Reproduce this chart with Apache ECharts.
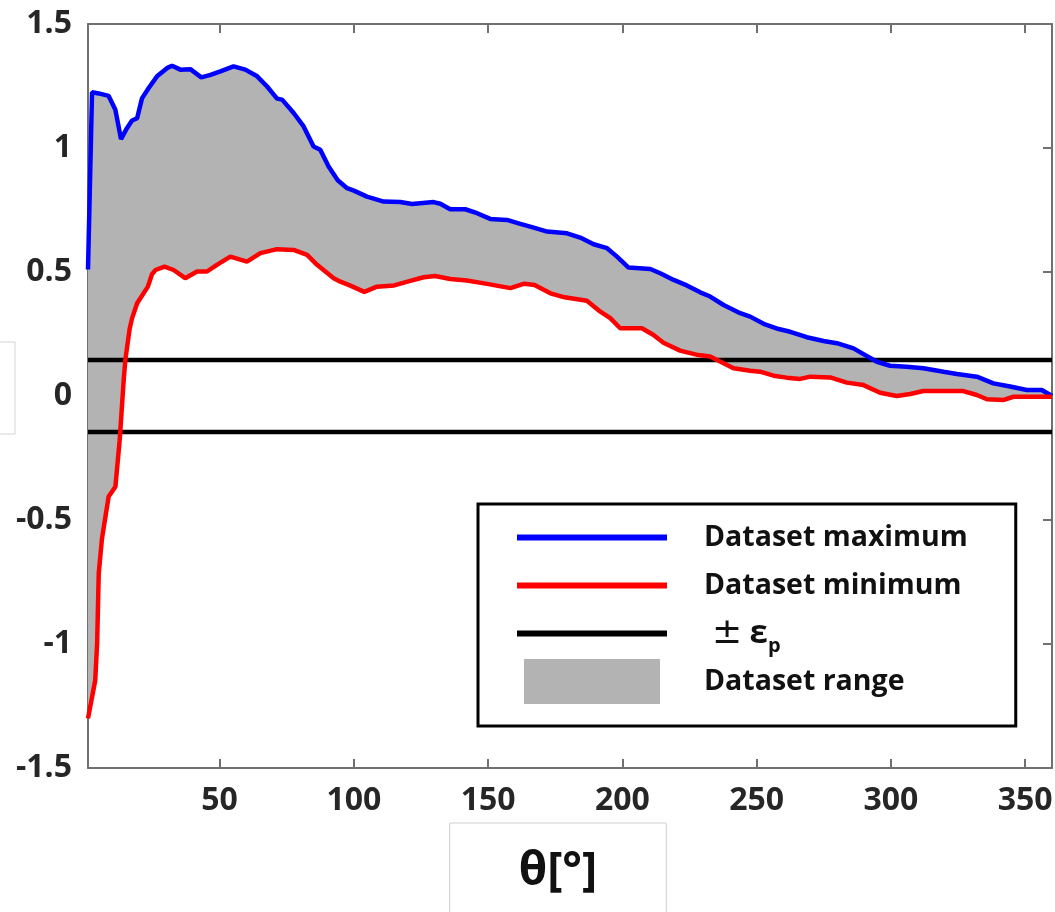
<!DOCTYPE html>
<html><head><meta charset="utf-8">
<script src="https://cdn.jsdelivr.net/npm/echarts@6/dist/echarts.min.js"></script>
<style>html,body{margin:0;padding:0;background:#fff}#c{width:1055px;height:912px}</style>
</head><body><div id="c"></div>
<script>
// ---- data ----
const maxX = [1, 2.5, 5, 8.7, 11.2, 13.3, 15.5, 17.4, 19.3, 21.1, 23.6, 26.7, 30.4, 32.3, 35.4, 39.1, 43.2, 46.6, 50.3, 55.2, 59.6, 64, 67.7, 71.4, 73.3, 77.6, 81.3, 85, 87.5, 90.6, 94, 97.5, 100, 104.9, 111.1, 117.3, 121.7, 129.7, 132.2, 135.9, 141.5, 145.9, 150.8, 157, 162, 167, 172, 179.4, 184.3, 189.3, 194.3, 198, 202.3, 210.4, 214.1, 219.1, 224, 229, 232.7, 237.7, 243.9, 247.6, 252.6, 258.2, 262.5, 268.7, 274.9, 279.9, 286.1, 289.8, 294.8, 299.7, 305.9, 312.1, 319.6, 324.6, 332, 338.2, 344.4, 350.6, 356.2, 360];
const maxY = [0.51, 1.225, 1.22, 1.21, 1.154, 1.036, 1.08, 1.111, 1.12, 1.2, 1.242, 1.289, 1.322, 1.332, 1.316, 1.318, 1.285, 1.295, 1.309, 1.329, 1.316, 1.289, 1.248, 1.199, 1.195, 1.141, 1.087, 1.006, 0.993, 0.925, 0.87, 0.838, 0.828, 0.804, 0.784, 0.782, 0.774, 0.782, 0.775, 0.753, 0.753, 0.737, 0.714, 0.71, 0.694, 0.679, 0.663, 0.656, 0.639, 0.612, 0.596, 0.562, 0.518, 0.512, 0.495, 0.468, 0.446, 0.418, 0.401, 0.367, 0.334, 0.32, 0.291, 0.27, 0.259, 0.237, 0.222, 0.213, 0.192, 0.169, 0.138, 0.122, 0.118, 0.112, 0.098, 0.089, 0.078, 0.051, 0.038, 0.024, 0.024, 0.0];
const minX = [1, 3.7, 4.4, 5, 6.2, 8.7, 11.2, 12.8, 14.3, 14.9, 16.5, 17.4, 19.3, 21.7, 23.3, 24.8, 26.1, 29.5, 32.9, 37.2, 41.6, 45.3, 49, 54, 60.2, 65.2, 71.4, 77.6, 82.6, 86.3, 92.5, 95, 98.7, 103.9, 108.6, 115, 121, 126, 130.3, 135.9, 142.1, 149.6, 158.3, 163.5, 167.3, 173.2, 178.5, 186.8, 191.8, 195.5, 199.2, 207.3, 211.6, 215.3, 221.5, 228.3, 232.7, 237.7, 241.4, 247.6, 251.3, 256.3, 261.2, 266.2, 270, 277.4, 283.6, 289.8, 296, 302.2, 307.2, 312.1, 319.6, 327, 332, 335.8, 342, 345.7, 350.6, 354.3, 360];
const minY = [-1.3, -1.146, -0.998, -0.716, -0.575, -0.405, -0.366, -0.178, 0.065, 0.145, 0.27, 0.313, 0.374, 0.414, 0.441, 0.49, 0.508, 0.522, 0.508, 0.475, 0.502, 0.502, 0.529, 0.562, 0.542, 0.576, 0.592, 0.589, 0.569, 0.529, 0.475, 0.461, 0.445, 0.42, 0.441, 0.446, 0.464, 0.479, 0.484, 0.472, 0.466, 0.452, 0.435, 0.453, 0.448, 0.414, 0.398, 0.384, 0.34, 0.314, 0.273, 0.273, 0.246, 0.215, 0.183, 0.165, 0.159, 0.132, 0.112, 0.102, 0.098, 0.082, 0.074, 0.069, 0.078, 0.075, 0.054, 0.044, 0.013, 0.0, 0.008, 0.02, 0.02, 0.02, 0.004, -0.013, -0.016, -0.003, -0.003, -0.003, -0.003];
const epsilon = 0.145;
const xTicks = [50, 100, 150, 200, 250, 300, 350];
const xRange = [1, 360];
const yRange = [-1.5, 1.5];
const yStep = 0.5;
const names = {max: 'Dataset maximum', min: 'Dataset minimum', eps: '±εp', range: 'Dataset range'};
const xTitle = 'θ[°]';

// ---- build ----
const pair = (xs, ys) => xs.map((x, i) => [x, ys[i]]);
const maxData = pair(maxX, maxY);
const minData = pair(minX, minY);

const FONT = "'Open Sans', 'DejaVu Sans', sans-serif";
const axisLineStyle = {color: '#707070', width: 2};

const chart = echarts.init(document.getElementById('c'), null, {renderer: 'canvas'});
chart.setOption({
  animation: false,
  backgroundColor: '#fff',
  grid: {left: 88, right: 3, top: 24, bottom: 144, containLabel: false, outerBoundsMode: 'none'},
  xAxis: [{
    type: 'value', position: 'bottom', min: xRange[0], max: xRange[1],
    axisLine: {show: true, onZero: false, lineStyle: axisLineStyle},
    axisTick: {show: true, inside: true, length: 9, customValues: xTicks, lineStyle: axisLineStyle},
    axisLabel: {customValues: xTicks, margin: 17, fontFamily: FONT, fontWeight: 'bold', fontSize: 32, color: '#262626'},
    splitLine: {show: false},
    name: '{box|' + xTitle + '}', nameLocation: 'middle', nameGap: 55,
    nameTextStyle: {
      padding: [0, 24, 0, 0],
      rich: {box: {fontFamily: FONT, fontWeight: 'bold', fontSize: 46, color: '#111',
        borderColor: '#cfcfcf', borderWidth: 1, padding: [26, 69, 60, 69]}}
    }
  }, {
    type: 'value', position: 'top', min: xRange[0], max: xRange[1],
    axisLine: {show: true, onZero: false, lineStyle: axisLineStyle},
    axisTick: {show: true, inside: true, length: 9, customValues: xTicks, lineStyle: axisLineStyle},
    axisLabel: {show: false}, splitLine: {show: false}
  }],
  yAxis: [{
    type: 'value', position: 'left', min: yRange[0], max: yRange[1], interval: yStep,
    axisLine: {show: true, onZero: false, lineStyle: axisLineStyle},
    axisTick: {show: true, inside: true, length: 9, lineStyle: axisLineStyle},
    axisLabel: {margin: 16, fontFamily: FONT, fontWeight: 'bold', fontSize: 32, color: '#262626'},
    splitLine: {show: false}
  }, {
    type: 'value', position: 'right', min: yRange[0], max: yRange[1], interval: yStep,
    axisLine: {show: true, onZero: false, lineStyle: axisLineStyle},
    axisTick: {show: true, inside: true, length: 9, lineStyle: axisLineStyle},
    axisLabel: {show: false}, splitLine: {show: false}
  }],
  legend: {
    orient: 'vertical', left: 478, top: 504,
    padding: [11, 48, 22, 39], borderColor: '#000', borderWidth: 3, backgroundColor: '#fff',
    itemWidth: 150, itemHeight: 45, itemGap: 3, selectedMode: false,
    data: [
      {name: names.max, icon: 'path://M0,0L150,0L150,6L0,6Z', itemStyle: {color: '#0000ff'}},
      {name: names.min, icon: 'path://M0,0L150,0L150,6L0,6Z', itemStyle: {color: '#ff0000'}},
      {name: names.eps, icon: 'path://M0,0L150,0L150,6L0,6Z', itemStyle: {color: '#000000'}},
      {name: names.range, icon: 'path://M0,0L136,0L136,45L0,45Z', itemStyle: {color: '#b3b3b3'}}
    ],
    formatter: n => n === names.eps ? '{pm|±} {eps|ε}{sub|p}' : n,
    textStyle: {
      fontFamily: FONT, fontWeight: 'bold', fontSize: 28.5, lineHeight: 45, color: '#111', padding: [0, 0, 0, 32],
      rich: {
        pm: {fontFamily: "'DejaVu Sans', sans-serif", fontWeight: 'normal', fontSize: 36, lineHeight: 45, color: '#111', padding: [0, 0, 0, 8]},
        eps: {fontFamily: FONT, fontWeight: 'bold', fontSize: 33, lineHeight: 45, color: '#111'},
        sub: {fontFamily: FONT, fontWeight: 'bold', fontSize: 20, color: '#111', verticalAlign: 'bottom', lineHeight: 34}
      }
    }
  },
  graphic: [{
    type: 'rect', silent: true, z: 0,
    shape: {x: -5, y: 342, width: 20, height: 92},
    style: {fill: 'none', stroke: '#d4d4d4', lineWidth: 1}
  }],
  series: [
    {
      type: 'custom', name: names.range, silent: true, z: 1,
      itemStyle: {color: '#b3b3b3'},
      data: [[xRange[0], 0]],
      renderItem: function (params, api) {
        const pts = [];
        for (let i = 0; i < maxData.length; i++) pts.push(api.coord(maxData[i]));
        for (let i = minData.length - 1; i >= 0; i--) pts.push(api.coord(minData[i]));
        return {type: 'polygon', shape: {points: pts}, style: {fill: '#b3b3b3', stroke: null}};
      }
    },
    {type: 'line', name: names.eps, z: 2, data: [[xRange[0], epsilon], [xRange[1], epsilon]], symbol: 'none',
      itemStyle: {color: '#000'}, lineStyle: {color: '#000', width: 4.5}},
    {type: 'line', name: names.eps, z: 2, data: [[xRange[0], -epsilon], [xRange[1], -epsilon]], symbol: 'none',
      itemStyle: {color: '#000'}, lineStyle: {color: '#000', width: 4.5}},
    {type: 'line', name: names.max, z: 3, data: maxData, symbol: 'none',
      itemStyle: {color: '#0000ff'}, lineStyle: {color: '#0000ff', width: 4.5}},
    {type: 'line', name: names.min, z: 3, data: minData, symbol: 'none',
      itemStyle: {color: '#ff0000'}, lineStyle: {color: '#ff0000', width: 4.5}}
  ]
});
</script>
</body></html>
